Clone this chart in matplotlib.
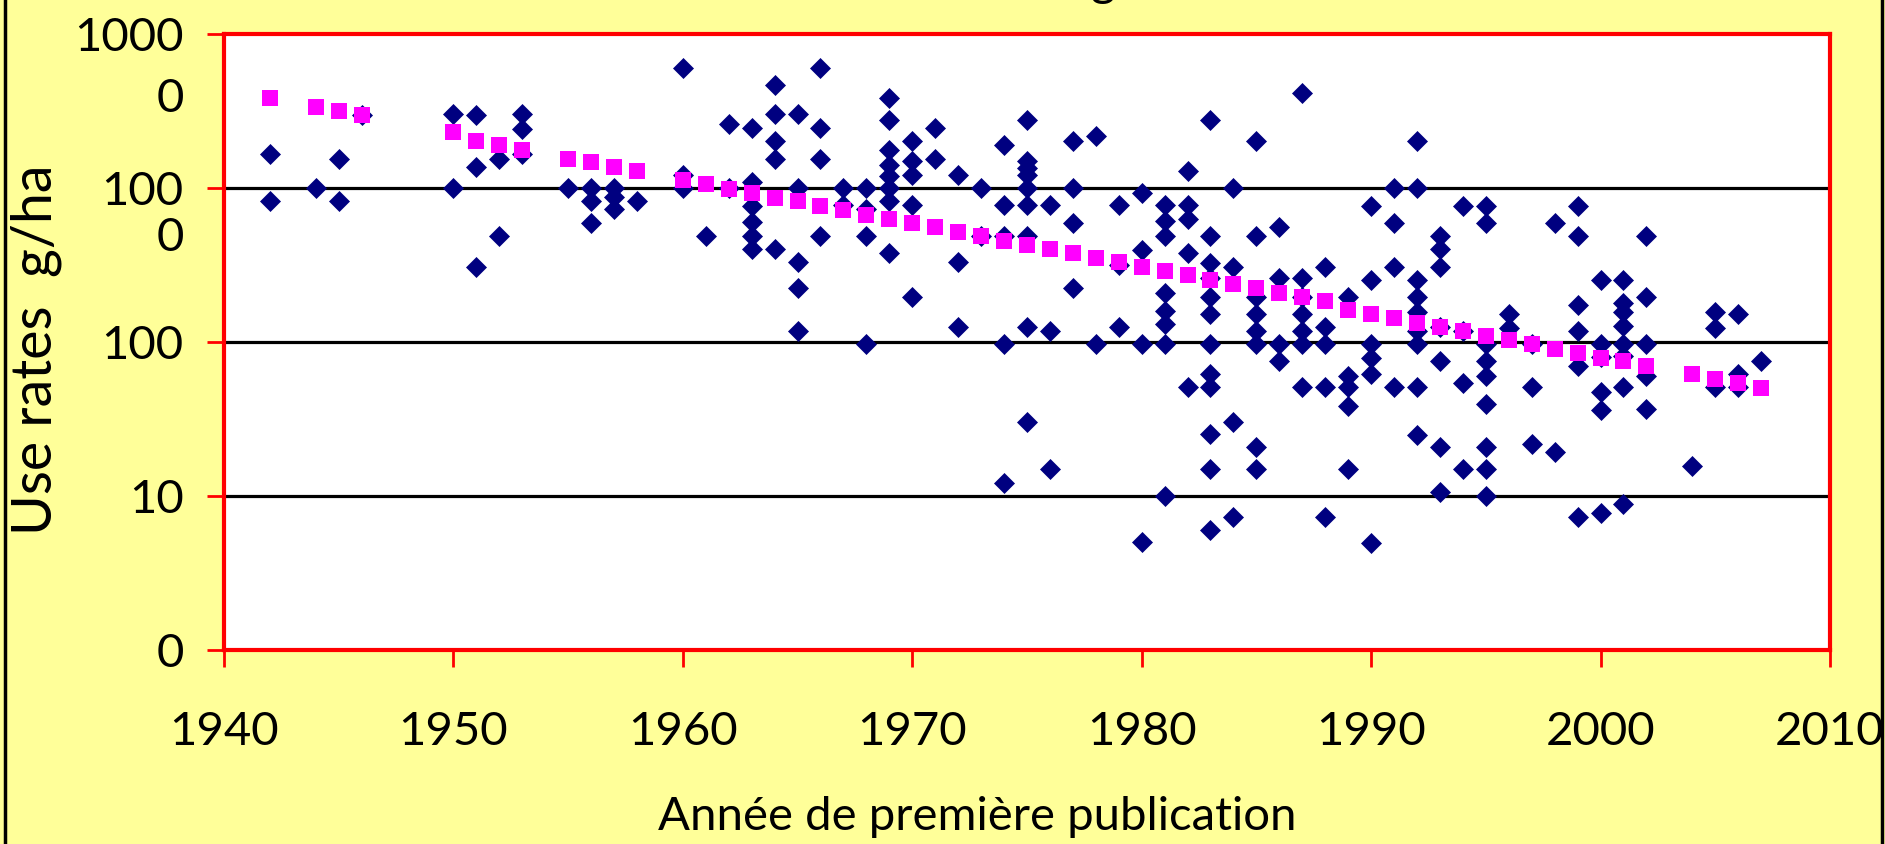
import matplotlib.pyplot as plt
from matplotlib.lines import Line2D

# publication year -> use rates (g/ha)
point_years = [1942, 1944, 1945, 1946, 1950, 1951, 1952, 1953, 1955, 1956,
               1957, 1958, 1960, 1961, 1962, 1963, 1964, 1965, 1966, 1967,
               1968, 1969, 1970, 1971, 1972, 1973, 1974, 1975, 1976, 1977,
               1978, 1979, 1980, 1981, 1982, 1983, 1984, 1985, 1986, 1987,
               1988, 1989, 1990, 1991, 1992, 1993, 1994, 1995, 1996, 1997,
               1998, 1999, 2000, 2001, 2002, 2004, 2005, 2006, 2007]
point_rates = [
    [1660, 820], [1000], [1550, 820], [2970], [3020, 1000],
    [2970, 1370, 309], [1540, 489], [3020, 2400, 1660], [1000], [1000, 820, 590],
    [1000, 880, 730], [820], [6060, 1220, 1000], [489], [2620, 1000],
    [2460, 1090, 760, 597, 489, 400], [4700, 3020, 2020, 1550, 400],
    [3020, 1000, 331, 223, 117], [6060, 2460, 1550, 489], [1000, 773],
    [1000, 730, 489, 97], [3850, 2770, 1770, 1400, 1200, 1000, 820, 378],
    [2020, 1490, 1220, 773, 195], [2460, 1550], [1210, 331, 125], [1000, 489],
    [1900, 773, 489, 97, 12.2], [2770, 1490, 1350, 1220, 1000, 773, 489, 125, 30.4],
    [773, 117, 14.9], [2020, 1000, 590, 223], [2170, 97], [773, 318, 125],
    [929, 393, 97, 5.0], [773, 615, 489, 207, 160, 131, 97, 10],
    [1290, 773, 632, 378, 50.8],
    [2770, 489, 327, 260, 195, 151, 97, 62.2, 50.8, 25.1, 14.9, 6.0],
    [1000, 309, 30.4, 7.26], [2020, 489, 195, 151, 117, 97, 20.7, 14.9],
    [555, 260, 97, 74.7], [4110, 260, 195, 151, 117, 97, 50.8],
    [309, 125, 97, 50.8, 7.26], [195, 60.4, 50.8, 38.2, 14.9],
    [768, 253, 97, 79, 62.2, 4.93], [1000, 590, 309, 50.8],
    [2020, 1000, 253, 195, 156, 117, 97, 50.8, 24.9],
    [489, 400, 309, 125, 74.7, 20.7, 10.6], [768, 117, 53.9, 14.9],
    [768, 590, 97, 74.7, 60.4, 39.3, 20.7, 14.9, 10], [151, 124],
    [97, 50.8, 21.8], [590, 19.2], [768, 489, 174, 117, 69.7, 7.26],
    [253, 97, 80, 47.2, 36.1, 7.7], [253, 180, 156, 127, 97, 80.5, 50.8, 8.87],
    [489, 195, 97, 60.4, 36.5], [15.7], [156, 124, 50.8], [151, 62.2, 50.8],
    [74.7],
]

trend_years = [1942, 1944, 1945, 1946, 1950, 1951, 1952, 1953, 1955, 1956,
               1957, 1958, 1960, 1961, 1962, 1963, 1964, 1965, 1966, 1967,
               1968, 1969, 1970, 1971, 1972, 1973, 1974, 1975, 1976, 1977,
               1978, 1979, 1980, 1981, 1982, 1983, 1984, 1985, 1986, 1987,
               1988, 1989, 1990, 1991, 1992, 1993, 1994, 1995, 1996, 1997,
               1998, 1999, 2000, 2001, 2002, 2004, 2005, 2006, 2007]
trend_rates = [3850, 3370, 3180, 2970, 2300, 2020, 1900, 1770, 1550, 1470,
               1370, 1280, 1135, 1060, 989, 929, 866, 818, 764, 717,
               670, 629, 590, 555, 518, 489, 454, 428, 400, 378,
               352, 333, 309, 288, 272, 254, 239, 223, 209, 195,
               185, 162, 153, 143, 133, 125, 117, 110, 103, 96.6,
               90.2, 84.7, 79.1, 74.7, 69.7, 61.5, 57.7, 53.9, 50.6]

x_ticks = [1940, 1950, 1960, 1970, 1980, 1990, 2000, 2010]
grid_values = [10, 100, 1000]
y_major = [1, 10, 100, 1000, 10000]
# the y labels are drawn broken as in the original (wrapped numbers)
y_label_pos = [1, 10, 100, 500, 1000, 4000, 10000]
y_label_txt = ['0', '10', '100', '0', '100', '0', '1000']

plt.rcParams['font.family'] = ['Lato', 'DejaVu Sans']

fig = plt.figure(figsize=(18.85, 8.44), dpi=100, facecolor='#FFFF99')
ax = fig.add_axes([0.1188, 0.2299, 0.852, 0.7298])
ax.set_facecolor('white')
ax.set_yscale('log')
ax.set_xlim(1940, 2010)
ax.set_ylim(1, 10000)

for g in grid_values:
    ax.axhline(g, color='black', lw=2.3, zorder=1)

xs, ys = [], []
for yr, rates in zip(point_years, point_rates):
    for r in rates:
        xs.append(yr)
        ys.append(r)
ax.plot(xs, ys, 'D', color='#000080', ms=10.5, mec='#000080', mew=0.5,
        ls='none', zorder=3)
ax.plot(trend_years, trend_rates, 's', color='#FF00FF', ms=12, mew=0,
        ls='none', zorder=4)

for s in ax.spines.values():
    s.set_color('red')
    s.set_linewidth(3)

ax.set_xticks(x_ticks)
ax.set_xticklabels([str(t) for t in x_ticks])
ax.tick_params(axis='x', direction='out', length=12, width=2, color='red',
               pad=32, labelsize=34)

ax.yaxis.remove_overlapping_locs = False
ax.set_yticks(y_major)
ax.set_yticklabels([''] * len(y_major))
ax.set_yticks(y_label_pos, minor=True)
ax.set_yticklabels(y_label_txt, minor=True)
ax.tick_params(axis='y', which='major', direction='out', length=12, width=2,
               color='red')
ax.tick_params(axis='y', which='minor', length=0, pad=29, labelsize=34)

fig.text(977 / 1885, 1 - 817 / 844, 'Année de première publication',
         ha='center', va='center', fontsize=34)
fig.text(36 / 1885, 1 - 350 / 844, 'Use rates  g/ha', ha='center',
         va='center', rotation=90, fontsize=40)
# descender of the cut-off title
fig.text(1103 / 1885, 1 + 4 / 844, 'g', ha='center', va='baseline', fontsize=34)

fig.add_artist(Line2D([5 / 1885, 5 / 1885], [0, 1], color='black', lw=2.5,
                      transform=fig.transFigure))
fig.add_artist(Line2D([1882 / 1885, 1882 / 1885], [0, 1], color='black', lw=2.5,
                      transform=fig.transFigure))

fig.savefig('out.png', dpi=100, facecolor=fig.get_facecolor())
